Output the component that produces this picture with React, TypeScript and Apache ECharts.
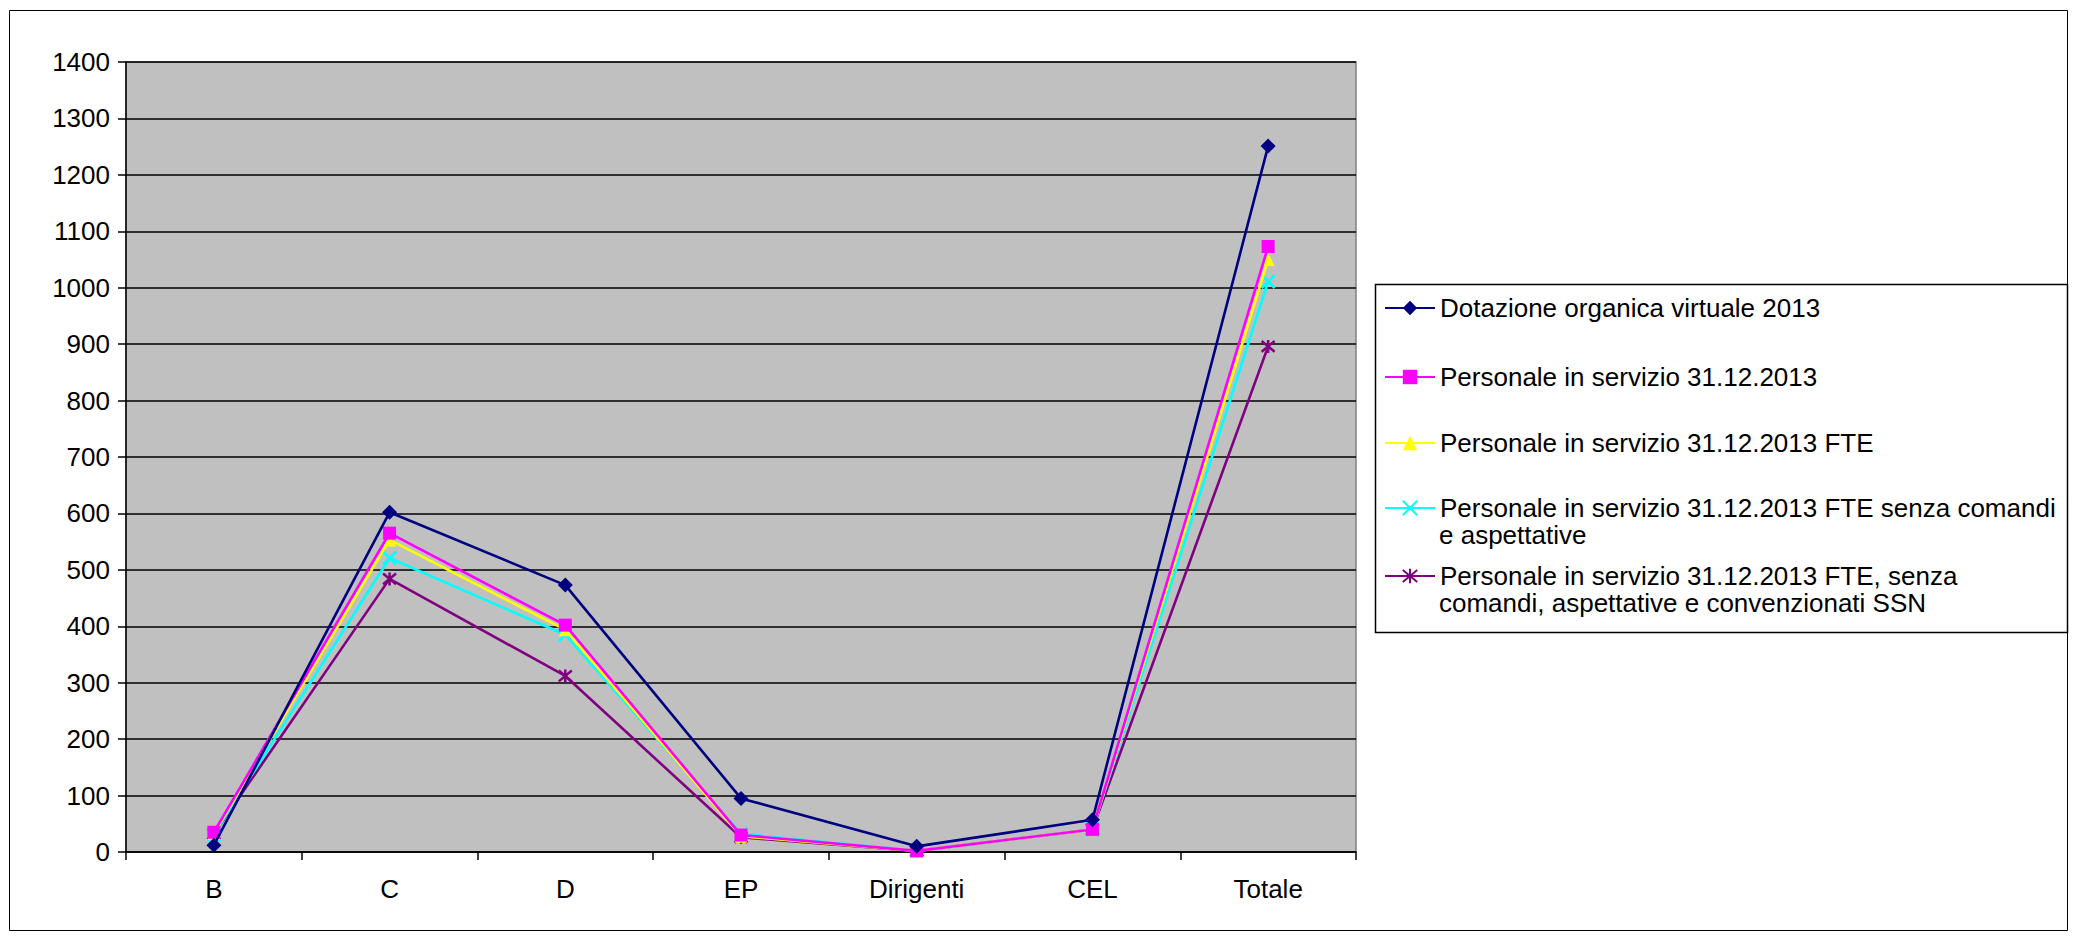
import React, { useEffect, useRef } from "react";
import * as echarts from "echarts";

const categories = ["B", "C", "D", "EP", "Dirigenti", "CEL", "Totale"];
const dotazione = [12, 602, 473, 95, 10, 57, 1251];
const personale = [35, 565, 402, 30, 2, 40, 1073];
const personaleFte = [33, 553, 394, 28, 2, 40, 1050];
const fteSenzaComandi = [31, 521, 385, 32, 2, 40, 1011];
const fteSenzaSsn = [32, 484, 312, 26, 2, 40, 896];
const yTicks = { min: 0, max: 1400, interval: 100 };

const seriesNames = [
  "Dotazione organica virtuale 2013",
  "Personale in servizio 31.12.2013",
  "Personale in servizio 31.12.2013 FTE",
  "Personale in servizio 31.12.2013 FTE senza comandi e aspettative",
  "Personale in servizio 31.12.2013 FTE, senza comandi, aspettative e convenzionati SSN",
];
const legendFirstLines = [
  "Dotazione organica virtuale 2013",
  "Personale in servizio 31.12.2013",
  "Personale in servizio 31.12.2013 FTE",
  "Personale in servizio 31.12.2013 FTE senza comandi",
  "Personale in servizio 31.12.2013 FTE, senza",
];
const legendSecondLines = ["", "", "", "e aspettative", "comandi, aspettative e convenzionati SSN"];

const FONT = "'Liberation Sans', Arial, sans-serif";
const FS = 26;

export default function App() {
  const ref = useRef<HTMLDivElement>(null);
  useEffect(() => {
    if (!ref.current) return;
    const chart = echarts.init(ref.current, null, { renderer: "svg" });
    const colors = ["#000080", "#FF00FF", "#FFFF00", "#00FFFF", "#800080"];
    const symbols = [
      "diamond",
      "rect",
      "triangle",
      "path://M0,0L10,10M10,0L0,10",
      "path://M0,0L10,10M10,0L0,10M5,-1L5,11",
    ];
    const datas = [dotazione, personale, personaleFte, fteSenzaComandi, fteSenzaSsn];
    const legendCenters = [308, 377, 443, 508, 576];
    const series = datas.map((d, i) => ({
      name: seriesNames[i],
      type: "line",
      data: d,
      symbol: symbols[i],
      symbolSize: i === 0 ? 15 : 13,
      showAllSymbol: true,
      lineStyle: { color: colors[i], width: 2.6 },
      itemStyle: {
        color: colors[i],
        borderColor: colors[i],
        borderWidth: i >= 3 ? 2.5 : 0,
      },
      z: 10 - i,
    }));
    const legends = seriesNames.map((n, i) => ({
      data: [n],
      left: 1384,
      top: legendCenters[i] - 13,
      padding: 0,
      itemWidth: 50,
      itemHeight: 18,
      selectedMode: false,
      formatter: () => legendFirstLines[i],
      textStyle: { fontFamily: FONT, fontSize: FS, color: "#000", lineHeight: 26 },
    }));
    const graphics: any[] = [
      {
        type: "rect",
        shape: { x: 9.5, y: 10.5, width: 2058, height: 920 },
        style: { fill: "none", stroke: "#000", lineWidth: 1 },
        silent: true,
        z: -10,
      },
      {
        type: "rect",
        shape: { x: 1375.5, y: 284.5, width: 692, height: 348 },
        style: { fill: "#fff", stroke: "#000", lineWidth: 1.5 },
        silent: true,
        z: -5,
      },
    ];
    legendSecondLines.forEach((t, i) => {
      if (!t) return;
      graphics.push({
        type: "text",
        x: 1439,
        y: legendCenters[i] + 27,
        style: { text: t, font: `${FS}px ${FONT}`, fill: "#000", verticalAlign: "middle" },
        silent: true,
        z: 10,
      });
    });
    chart.setOption({
      animation: false,
      backgroundColor: "#fff",
      textStyle: { fontFamily: FONT },
      grid: {
        left: 126,
        top: 62,
        width: 1230,
        height: 790,
        show: true,
        backgroundColor: "#C0C0C0",
        borderColor: "#808080",
        borderWidth: 1.5,
      },
      legend: legends,
      graphic: graphics,
      xAxis: {
        type: "category",
        data: categories,
        boundaryGap: true,
        axisLine: { lineStyle: { color: "#000", width: 1.5 } },
        axisTick: { show: true, length: 8, inside: false, lineStyle: { color: "#000", width: 1.5 } },
        axisLabel: { color: "#000", fontSize: FS, fontFamily: FONT, margin: 24 },
        splitLine: { show: false },
      },
      yAxis: {
        type: "value",
        min: yTicks.min,
        max: yTicks.max,
        interval: yTicks.interval,
        axisLine: { show: true, lineStyle: { color: "#000", width: 1.5 } },
        axisTick: { show: true, length: 8, lineStyle: { color: "#000", width: 1.5 } },
        axisLabel: {
          color: "#000",
          fontSize: FS,
          fontFamily: FONT,
          margin: 16,
          formatter: (v: number) => String(v),
        },
        splitLine: { show: true, lineStyle: { color: "#000", width: 1.5 } },
      },
      series,
    });
    return () => chart.dispose();
  }, []);
  return (
    <div
      ref={ref}
      style={{ position: "absolute", left: 0, top: 0, width: 2073, height: 940 }}
    />
  );
}
